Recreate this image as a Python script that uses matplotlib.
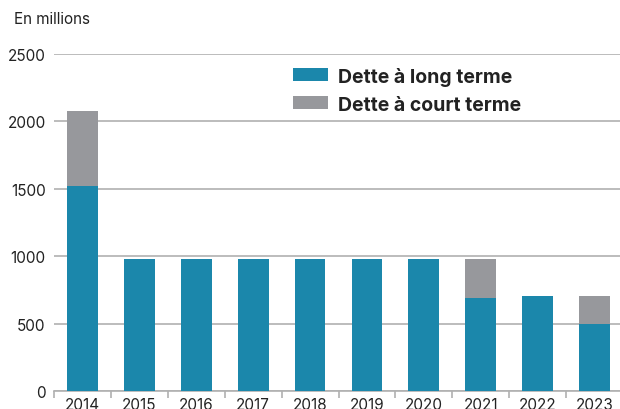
import matplotlib.pyplot as plt
import numpy as np

years = ['2014', '2015', '2016', '2017', '2018', '2019', '2020', '2021', '2022', '2023']
long_term = [1520, 980, 980, 980, 980, 980, 980, 690, 705, 500]
short_term = [560, 0, 0, 0, 0, 0, 0, 290, 0, 205]

blue = '#1b87ab'
grey = '#97989c'

plt.rcParams['font.family'] = ['Inter', 'DejaVu Sans']

fig = plt.figure(figsize=(6.2, 4.1), dpi=100)
ax = fig.add_axes([54 / 620, 18 / 410, 569 / 620, 337 / 410])

x = np.arange(len(years))
A = ax.bar(x, long_term, width=0.54, color=blue, label='Dette à long terme', zorder=3)
B = ax.bar(x, short_term, width=0.54, bottom=long_term, color=grey,
           label='Dette à court terme', zorder=3)

ax.set_xlim(-0.5, 9.5)
ax.set_ylim(0, 2500)
ax.set_yticks([0, 500, 1000, 1500, 2000, 2500])
ax.yaxis.grid(True, color='#b0b0b0', linewidth=1.2, zorder=0)
ax.tick_params(axis='y', length=0, labelsize=11, pad=6, colors='#222222')

ax.set_xticks(x)
ax.set_xticklabels(years)
ax.set_xticks(np.arange(-0.5, 9.5, 1), minor=True)
ax.tick_params(axis='x', which='major', length=0, labelsize=11, pad=4, colors='#222222')
ax.tick_params(axis='x', which='minor', length=5, color='#b0b0b0', width=1.2)

for s in ['top', 'right', 'left']:
    ax.spines[s].set_visible(False)
ax.spines['bottom'].set_color('#b0b0b0')
ax.spines['bottom'].set_linewidth(1.2)

leg = ax.legend(handles=[A, B], loc='upper left', bbox_to_anchor=(0.42, 0.962),
                frameon=False, prop={'weight': 'bold', 'size': 14},
                borderaxespad=0, borderpad=0,
                handlelength=1.8, handleheight=0.65, handletextpad=0.5,
                labelspacing=0.5)
for t in leg.get_texts():
    t.set_color('#222222')

fig.text(14 / 620, 1 - 20 / 410, 'En millions', fontsize=11, color='#222222', va='center')

fig.savefig('out.png', dpi=100)
